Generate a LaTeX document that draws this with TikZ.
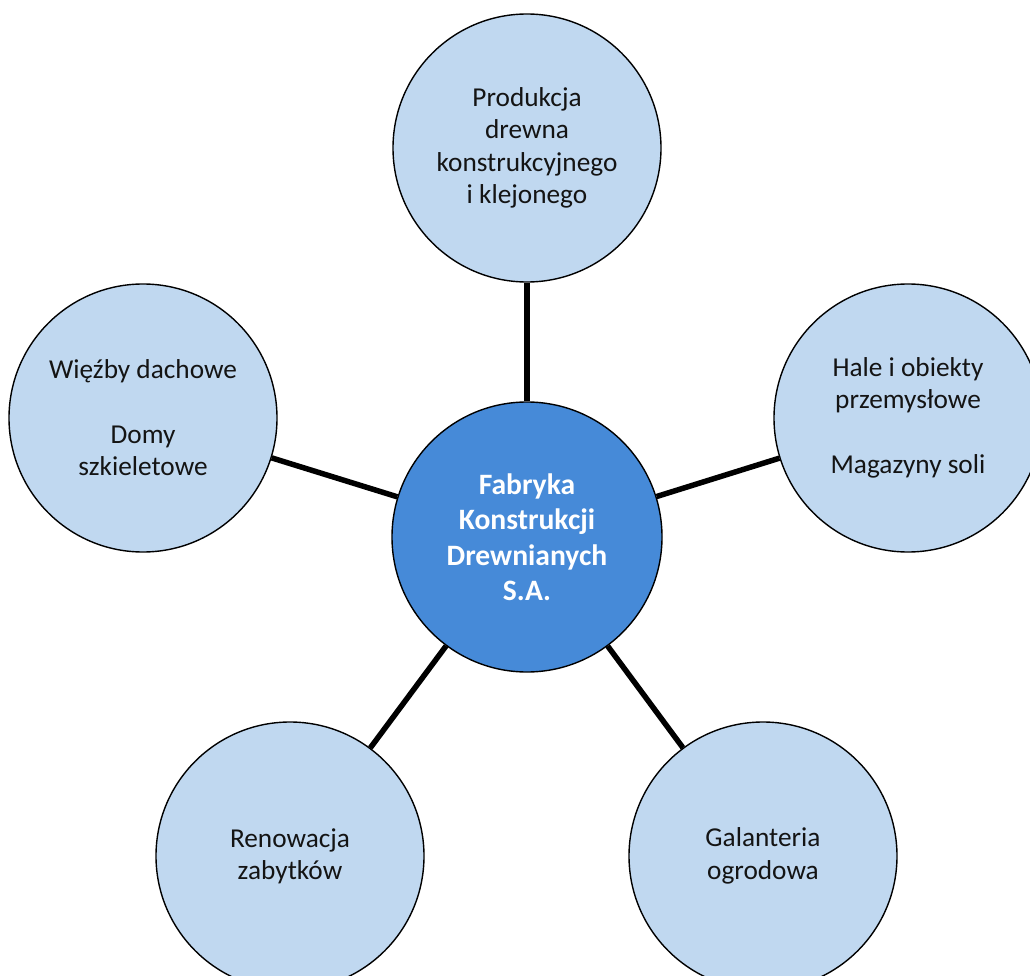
\documentclass[tikz,border=0pt]{standalone}
\usepackage{fontspec}
\setmainfont{Carlito}
\definecolor{lightfill}{HTML}{C0D8F0}
\definecolor{hubfill}{HTML}{468AD8}
\definecolor{txtdark}{HTML}{141414}
\begin{document}
\begin{tikzpicture}[x=1pt,y=-1pt,
  outer/.style={circle, draw=black, line width=1.4pt, fill=lightfill,
    minimum size=268pt, inner sep=0pt, align=center, text=txtdark,
    font=\fontsize{27.3}{32.3}\selectfont},
  hub/.style={circle, draw=black, line width=1.4pt, fill=hubfill,
    minimum size=270pt, inner sep=0pt, align=center, text=white,
    font=\fontsize{29.6}{35.5}\selectfont\bfseries},
  link/.style={line width=5.5pt, black}]
\useasboundingbox (0,0) rectangle (1030,976);
\path[clip] (0,0) rectangle (1030,976);
\node[hub] (c) at (527,537) {Fabryka\\Konstrukcji\\Drewnianych\\S.A.};
\node[outer] (t) at (527,148) {Produkcja\\drewna\\konstrukcyjnego\\i klejonego};
\node[outer] (l) at (143,418) {Więźby dachowe\\\mbox{}\\Domy\\szkieletowe};
\node[outer] (r) at (908,418) {Hale i obiekty\\przemysłowe\\\mbox{}\\Magazyny soli};
\node[outer] (bl) at (290,856) {Renowacja\\zabytków};
\node[outer] (br) at (763,856) {Galanteria\\ogrodowa};
\draw[link] (c) -- (t);
\draw[link] (c) -- (l);
\draw[link] (c) -- (r);
\draw[link] (c) -- (bl);
\draw[link] (c) -- (br);
\end{tikzpicture}
\end{document}
